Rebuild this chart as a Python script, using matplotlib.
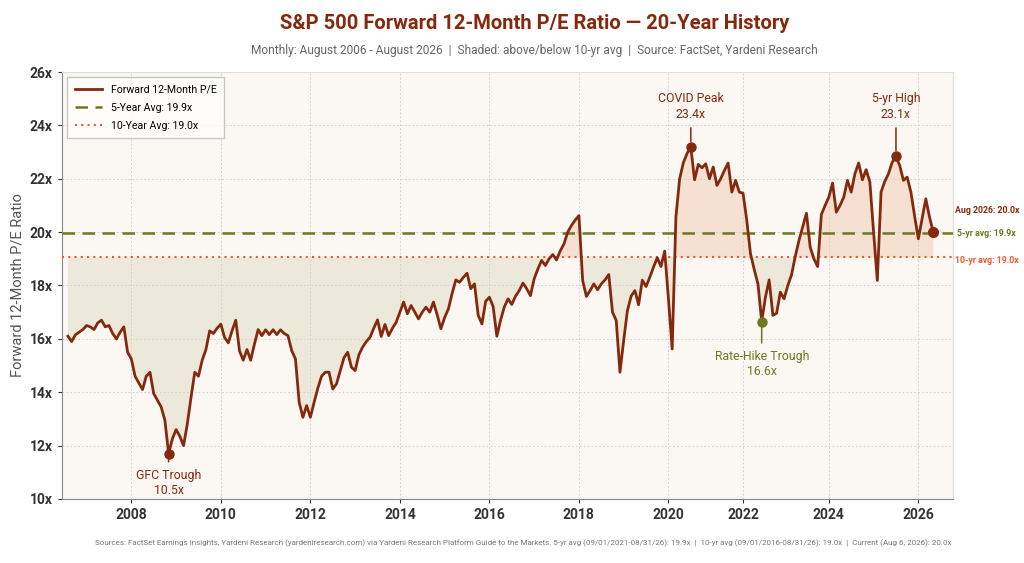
"""S&P 500 forward 12-month P/E, 20-year monthly history, shaded around the 10-yr average."""

import matplotlib

matplotlib.use("Agg")
import matplotlib.pyplot as plt
import numpy as np
from matplotlib.transforms import blended_transform_factory

plt.rcParams["font.family"] = ["Roboto", "DejaVu Sans"]

# monthly forward P/E, Aug 2006 -> Aug 2026 (one value per plotted point)
PE = [
    16.1, 15.9, 16.15, 16.25, 16.35, 16.5, 16.45, 16.35, 16.6, 16.7,
    16.45, 16.5, 16.2, 16.0, 16.25, 16.45, 15.5, 15.25, 14.6, 14.35,
    14.1, 14.6, 14.75, 13.95, 13.7, 13.45, 12.95, 11.7, 12.25, 12.6,
    12.35, 12.0, 12.8, 13.8, 14.75, 14.6, 15.2, 15.6, 16.3, 16.2,
    16.4, 16.55, 16.05, 15.85, 16.3, 16.7, 15.55, 15.2, 15.6, 15.2,
    15.8, 16.35, 16.12, 16.34, 16.16, 16.34, 16.16, 16.34, 16.2, 16.12,
    15.56, 15.25, 13.62, 13.06, 13.5, 13.06, 13.62, 14.15, 14.6, 14.75,
    14.75, 14.12, 14.31, 14.8, 15.29, 15.5, 14.94, 14.81, 15.4, 15.69,
    15.9, 16.06, 16.4, 16.71, 16.09, 16.54, 16.12, 16.4, 16.62, 17.0,
    17.38, 16.94, 17.25, 17.0, 16.75, 17.0, 17.19, 17.0, 17.38, 16.9,
    16.38, 16.8, 17.12, 17.7, 18.21, 18.12, 18.3, 18.46, 17.88, 18.06,
    16.88, 16.56, 17.41, 17.56, 17.21, 16.1, 16.7, 17.2, 17.5, 17.29,
    17.6, 17.81, 18.09, 17.88, 17.62, 18.25, 18.62, 18.94, 18.75, 19.0,
    19.16, 18.96, 19.3, 19.56, 20.0, 20.25, 20.45, 20.62, 18.19, 17.59,
    17.81, 18.06, 17.84, 18.06, 18.21, 18.41, 17.0, 16.69, 14.75, 15.94,
    17.06, 17.6, 17.81, 17.28, 18.2, 17.96, 18.31, 18.69, 19.04, 18.71,
    19.29, 17.5, 15.62, 20.56, 22.0, 22.6, 22.95, 23.19, 21.96, 22.54,
    22.41, 22.56, 22.0, 22.44, 21.75, 22.0, 22.31, 22.59, 21.5, 21.94,
    21.5, 21.46, 20.44, 19.19, 18.6, 18.06, 16.65, 17.56, 18.21, 16.88,
    16.96, 17.75, 17.5, 18.0, 18.4, 19.09, 19.69, 20.2, 20.71, 19.44,
    19.0, 18.71, 20.66, 21.0, 21.31, 21.84, 20.75, 21.0, 21.31, 21.94,
    21.5, 22.19, 22.59, 21.96, 22.34, 21.88, 20.0, 18.19, 21.5, 21.9,
    22.19, 22.62, 22.84, 22.5, 21.94, 22.06, 21.5, 20.6, 19.75, 20.5,
    21.25, 20.56, 20.0,
]
AVG_5Y = 19.95
AVG_10Y = 19.05
YEAR_TICK_IDX = [17, 41, 65, 89, 113, 137, 161, 181, 204, 228]
YEAR_LABELS = ["2008", "2010", "2012", "2014", "2016", "2018", "2020", "2022", "2024", "2026"]

# (label, index of the point, text y, colour key)
EVENTS = [
    ("GFC Trough\n10.5x", 27, 10.6, "red"),
    ("COVID Peak\n23.4x", 167, 24.7, "red"),
    ("Rate-Hike Trough\n16.6x", 186, 15.05, "olive"),
    ("5-yr High\n23.1x", 222, 24.7, "red"),
]

RED = "#85290e"
OLIVE = "#6b7a1e"
ORANGE = "#ea5a2a"
C = {"red": RED, "olive": OLIVE}

pe = np.array(PE)
x = np.arange(len(pe))

fig = plt.figure(figsize=(10.24, 5.63), dpi=100)
ax = fig.add_axes([0.0605, 0.1137, 0.8702, 0.7584])
ax.set_facecolor("#fbf8f4")

ax.fill_between(x, pe, AVG_10Y, where=pe >= AVG_10Y, interpolate=True,
                color="#f5e0d2", lw=0)
ax.fill_between(x, pe, AVG_10Y, where=pe < AVG_10Y, interpolate=True,
                color="#ece9da", lw=0)

ax.plot(x, pe, color=RED, lw=2.0, label="Forward 12-Month P/E", zorder=4)
ax.axhline(AVG_5Y, color=OLIVE, lw=1.8, ls=(0, (5, 3)), label="5-Year Avg: 19.9x", zorder=3)
ax.axhline(AVG_10Y, color=ORANGE, lw=1.5, ls=(0, (1, 2)), label="10-Year Avg: 19.0x", zorder=3)

for text, i, ty, ck in EVENTS:
    col = C[ck]
    ax.plot(x[i], pe[i], "o", ms=6.5, color=col, zorder=5)
    ax.annotate(text, xy=(x[i], pe[i]), xytext=(x[i], ty), ha="center", va="center",
                fontsize=8.8, color=col, linespacing=1.25,
                arrowprops=dict(arrowstyle="-", color=col, lw=1.1, shrinkA=3, shrinkB=4))

ax.plot(x[-1], pe[-1], "o", ms=7, color=RED, zorder=5)

tr = blended_transform_factory(ax.transAxes, ax.transData)
ax.text(1.002, pe[-1] + 0.8, "Aug 2026: 20.0x", transform=tr, fontsize=6.3,
        fontweight="bold", color=RED, va="center")
ax.text(1.004, AVG_5Y, "5-yr avg: 19.9x", transform=tr, fontsize=6.3,
        fontweight="bold", color=OLIVE, va="center")
ax.text(1.002, AVG_10Y - 0.1, "10-yr avg: 19.0x", transform=tr, fontsize=6.3,
        fontweight="bold", color=ORANGE, va="center")

ax.set_xlim(-1.6, 237.3)
ax.set_ylim(10, 26)
ax.set_xticks(YEAR_TICK_IDX)
ax.set_xticklabels(YEAR_LABELS)
yt = np.arange(10, 27, 2)
ax.set_yticks(yt)
ax.set_yticklabels([f"{v}x" for v in yt])
ax.tick_params(labelsize=10, colors="#333333", length=3)
for lab in ax.get_xticklabels() + ax.get_yticklabels():
    lab.set_fontweight("bold")
ax.set_ylabel("Forward 12-Month P/E Ratio", fontsize=10.5, color="#555555", labelpad=4)
ax.grid(True, color="#d6d2cc", ls=(0, (2, 2)), lw=0.7)
for side in ["top", "right"]:
    ax.spines[side].set_color("#dddddd")
for side in ["left", "bottom"]:
    ax.spines[side].set_color("#888888")

leg = ax.legend(loc="upper left", fontsize=7.6, frameon=True, fancybox=False,
                borderpad=0.7, labelspacing=0.75, handlelength=2.6)
leg.get_frame().set_edgecolor("#bbbbbb")
leg.get_frame().set_facecolor("white")

fig.text(0.522, 0.958, "S&P 500 Forward 12-Month P/E Ratio \u2014 20-Year History",
         ha="center", va="center", fontsize=14.5, fontweight="bold", color=RED)
fig.text(0.522, 0.911, "Monthly: August 2006 - August 2026  |  Shaded: above/below 10-yr avg"
         "  |  Source: FactSet, Yardeni Research",
         ha="center", va="center", fontsize=8.6, color="#666666")
fig.text(0.511, 0.035,
         "Sources: FactSet Earnings Insights, Yardeni Research (yardeniresearch.com) via Yardeni "
         "Research Platform Guide to the Markets. 5-yr avg (09/01/2021-08/31/26): 19.9x  |  "
         "10-yr avg (09/01/2016-08/31/26): 19.0x  |  Current (Aug 6, 2026): 20.0x",
         ha="center", va="center", fontsize=5.8, color="#777777")

fig.savefig("out.png", dpi=100, facecolor="white")
